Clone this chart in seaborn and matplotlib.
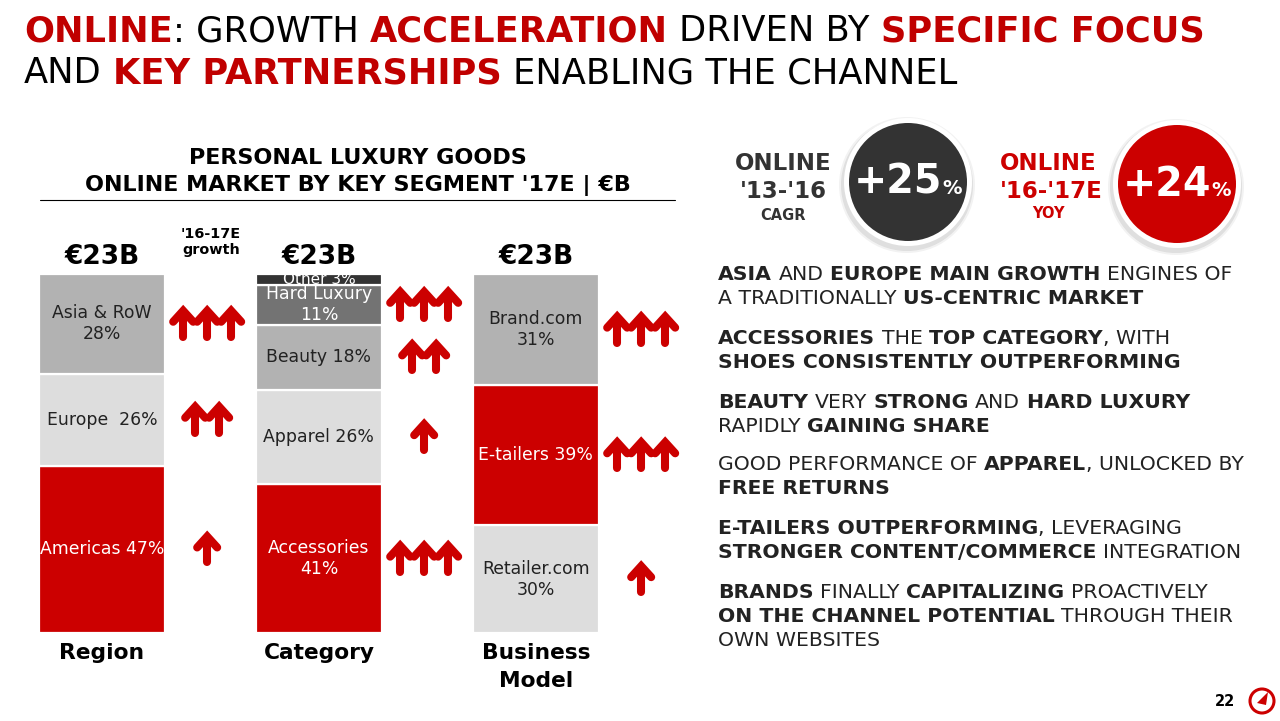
import matplotlib
matplotlib.use("Agg")
import matplotlib.pyplot as plt
import seaborn as sns
from matplotlib.patches import Circle, Polygon

# Data
group_names = ["Region", "Category", "Business\nModel"]
group_totals = ["€23B", "€23B", "€23B"]

region_labels = ["Americas 47%", "Europe  26%", "Asia & RoW\n28%"]
region_values = [47, 26, 28]
region_growth = [1, 2, 3]

category_labels = ["Accessories\n41%", "Apparel 26%", "Beauty 18%", "Hard Luxury\n11%", "Other 3%"]
category_values = [41, 26, 18, 11, 3]
category_growth = [3, 1, 2, 3, 0]

business_labels = ["Retailer.com\n30%", "E-tailers 39%", "Brand.com\n31%"]
business_values = [30, 39, 31]
business_growth = [1, 3, 3]

RED = "#CC0000"
DARK = "#222222"
region_colors = [RED, "#DDDDDD", "#B2B2B2"]
category_colors = [RED, "#DDDDDD", "#B2B2B2", "#737373", "#333333"]
business_colors = ["#DDDDDD", RED, "#B2B2B2"]
region_text = ["white", DARK, DARK]
category_text = ["white", DARK, DARK, "white", "white"]
business_text = [DARK, "white", DARK]

groups = [
    (region_labels, region_values, region_growth, region_colors, region_text),
    (category_labels, category_values, category_growth, category_colors, category_text),
    (business_labels, business_values, business_growth, business_colors, business_text),
]

sns.set_theme(style="white")
plt.rcParams['font.family'] = ['DejaVu Sans']

W, H = 1280, 721
fig = plt.figure(figsize=(W / 100, H / 100), dpi=100)
fig.patch.set_facecolor("white")

# overlay in pixel coordinates (origin top-left)
ov = fig.add_axes([0, 0, 1, 1])
ov.set_xlim(0, W)
ov.set_ylim(H, 0)
ov.axis("off")

renderer = fig.canvas.get_renderer()


def adv(s, size, weight):
    t1 = ov.text(0, 0, "|" + s + "|", fontsize=size, fontweight=weight)
    t2 = ov.text(0, 0, "||", fontsize=size, fontweight=weight)
    w = t1.get_window_extent(renderer).width - t2.get_window_extent(renderer).width
    t1.remove()
    t2.remove()
    return w


def rich_line(x, y, parts, ha="left", va="center"):
    widths = [adv(s, sz, wt) for s, wt, c, sz in parts]
    if ha == "center":
        x -= sum(widths) / 2
    for (s, wt, c, sz), wd in zip(parts, widths):
        lead = len(s) - len(s.lstrip())
        off = adv(s[:lead], sz, wt) if lead else 0
        ov.text(x + off, y, s.strip(), fontsize=sz, fontweight=wt, color=c,
                ha="left", va=va)
        x += wd


# Title
TS = 25.4
rich_line(24, 31, [("ONLINE", "bold", "#C00000", TS), (": GROWTH ", "normal", "black", TS),
                   ("ACCELERATION", "bold", "#C00000", TS), (" DRIVEN BY ", "normal", "black", TS),
                   ("SPECIFIC FOCUS", "bold", "#C00000", TS)])
rich_line(24, 73, [("AND ", "normal", "black", TS), ("KEY PARTNERSHIPS", "bold", "#C00000", TS),
                   (" ENABLING THE CHANNEL", "normal", "black", TS)])

# Chart header
ov.text(358, 158, "PERSONAL LUXURY GOODS", fontsize=16, fontweight="bold", color="black",
        ha="center", va="center")
ov.text(358, 186, "ONLINE MARKET BY KEY SEGMENT '17E | €B", fontsize=16, fontweight="bold",
        color="black", ha="center", va="center")
ov.plot([40, 675], [200, 200], color="black", lw=0.8)

# Stacked bars
ax = fig.add_axes([39 / W, (H - 633) / H, 661 / W, 359 / H])
ax.set_xlim(-0.29, -0.29 + 661 / 217)
ax.set_ylim(0, 100)
ax.axis("off")


def draw_arrows(cx, cy, n):
    start = cx - (n - 1) * 24 / 2
    for k in range(n):
        x0 = start + k * 24
        ov.plot([x0, x0], [cy + 13, cy - 10], color=RED, lw=5.8, solid_capstyle="round")
        ov.plot([x0 - 10, x0, x0 + 10], [cy - 2, cy - 13, cy - 2], color=RED, lw=5.8,
                solid_capstyle="round", solid_joinstyle="miter")


for i, (labels, values, growth, colors, tcolors) in enumerate(groups):
    total = sum(values)
    bottom = 0
    for lab, v, g, c, tc in zip(labels, values, growth, colors, tcolors):
        h = v / total * 100
        rect = ax.bar(i, h, bottom=bottom, width=0.58, color=c, edgecolor="white", linewidth=1.6)[0]
        small = h < 5
        t = ax.text(i, bottom + h / 2, lab, ha="center", va="center",
                    fontsize=11 if small else 12.4, color=tc, linespacing=1.2)
        if small:
            t.set_clip_path(rect)
        if g:
            dx, dy = ax.transData.transform((i + 0.485, bottom + h / 2))
            draw_arrows(dx, H - dy, g)
        bottom += h
    cx, _ = ax.transData.transform((i, 0))
    ov.text(cx, 257, group_totals[i], fontsize=19, fontweight="bold", color="black",
            ha="center", va="center")
    for k, line in enumerate(group_names[i].split("\n")):
        ov.text(cx, 653 + k * 28, line, fontsize=15.7, fontweight="bold", color="black",
                ha="center", va="center")

ov.text(211, 242, "'16-17E\ngrowth", fontsize=10.4, fontweight="bold", color="black",
        ha="center", va="center", linespacing=1.1)

# KPI circles
for cx, cy, col in [(908, 182, "#333333"), (1177, 184, RED)]:
    ov.add_patch(Circle((cx - 1, cy + 3), 68, color="black", alpha=0.05, lw=0))
    ov.add_patch(Circle((cx - 1, cy + 3), 66, color="black", alpha=0.08, lw=0))
    ov.add_patch(Circle((cx, cy), 64, color="white", lw=0))
    ov.add_patch(Circle((cx, cy), 59, color=col, lw=0))

rich_line(908, 194, [("+25", "bold", "white", 28.5), ("%", "bold", "white", 14)], ha="center",
          va="baseline")
rich_line(1177, 196, [("+24", "bold", "white", 28.5), ("%", "bold", "white", 14)], ha="center",
          va="baseline")

ov.text(783, 164, "ONLINE", fontsize=16.5, fontweight="bold", color="#333333", ha="center", va="center")
ov.text(783, 191, "'13-'16", fontsize=16.5, fontweight="bold", color="#333333", ha="center", va="center")
ov.text(783, 216, "CAGR", fontsize=10.5, fontweight="bold", color="#333333", ha="center", va="center")
ov.text(1048, 164, "ONLINE", fontsize=16.5, fontweight="bold", color=RED, ha="center", va="center")
ov.text(1051, 191, "'16-'17E", fontsize=16.5, fontweight="bold", color=RED, ha="center", va="center")
ov.text(1048, 213, "YOY", fontsize=10.5, fontweight="bold", color=RED, ha="center", va="center")

# Right-side commentary
BS = 14.7
B, R = "bold", "normal"
bullets = [
    (274, [[("ASIA", B), (" AND ", R), ("EUROPE MAIN GROWTH", B), (" ENGINES OF", R)],
           [("A TRADITIONALLY ", R), ("US-CENTRIC MARKET", B)]]),
    (338, [[("ACCESSORIES", B), (" THE ", R), ("TOP CATEGORY", B), (", WITH", R)],
           [("SHOES CONSISTENTLY OUTPERFORMING", B)]]),
    (402, [[("BEAUTY", B), (" VERY ", R), ("STRONG", B), (" AND ", R), ("HARD LUXURY", B)],
           [("RAPIDLY ", R), ("GAINING SHARE", B)]]),
    (465, [[("GOOD PERFORMANCE OF ", R), ("APPAREL", B), (", UNLOCKED BY", R)],
           [("FREE RETURNS", B)]]),
    (528, [[("E-TAILERS OUTPERFORMING", B), (", LEVERAGING", R)],
           [("STRONGER CONTENT/COMMERCE", B), (" INTEGRATION", R)]]),
    (592, [[("BRANDS", B), (" FINALLY ", R), ("CAPITALIZING", B), (" PROACTIVELY", R)],
           [("ON THE CHANNEL POTENTIAL", B), (" THROUGH THEIR", R)],
           [("OWN WEBSITES", R)]]),
]
for y0, lines in bullets:
    for j, line in enumerate(lines):
        rich_line(718, y0 + j * 24, [(s, w, DARK, BS) for s, w in line])

# Page number and logo
ov.text(1225, 701, "22", fontsize=10.5, fontweight="bold", color="black", ha="center", va="center")
ov.add_patch(Circle((1262, 701), 12, fill=False, edgecolor=RED, lw=2.2))
ov.add_patch(Polygon([(1257, 703), (1268, 692), (1266, 705)], closed=True, color=RED, lw=0))

fig.savefig("out.png", dpi=100)
